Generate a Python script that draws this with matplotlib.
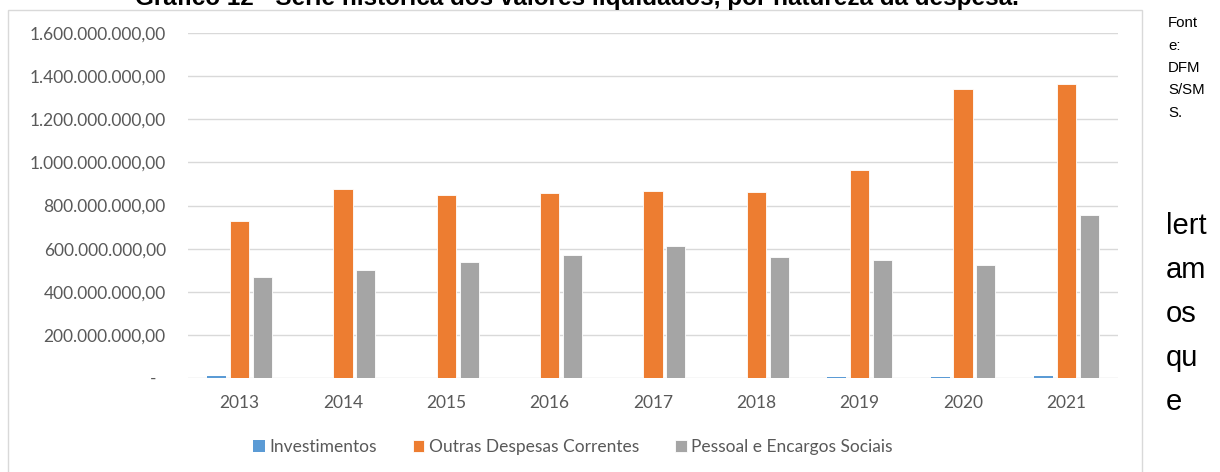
import matplotlib
matplotlib.use("Agg")
import matplotlib.pyplot as plt
from matplotlib.patches import Rectangle
import numpy as np

years = ["2013", "2014", "2015", "2016", "2017", "2018", "2019", "2020", "2021"]
investimentos = [8e6, 0.5e6, 0.5e6, 0.5e6, 0.5e6, 0.5e6, 5e6, 6e6, 11e6]
outras_despesas = [729e6, 878e6, 850e6, 856e6, 869e6, 862e6, 966e6, 1338e6, 1362e6]
pessoal = [469e6, 502e6, 536e6, 570e6, 613e6, 561e6, 545e6, 526e6, 754e6]
series_names = ["Investimentos", "Outras Despesas Correntes", "Pessoal e Encargos Sociais"]
colors = ["#5B9BD5", "#ED7D31", "#A5A5A5"]
yticks = [0, 200e6, 400e6, 600e6, 800e6, 1000e6, 1200e6, 1400e6, 1600e6]

title = "Gráfico 12 - Série histórica dos valores liquidados, por natureza da despesa."
side_small = ["Font", "e:", "DFM", "S/SM", "S."]
side_big = ["lert", "am", "os", "qu", "e"]

W, H = 1220, 472
DPI = 100
fig = plt.figure(figsize=(W / DPI, H / DPI), dpi=DPI)

def fx(px):
    return px / W

def fy(py):
    return 1 - py / H

# chart area border
fig.patches.append(Rectangle((fx(8), fy(480)), fx(1142) - fx(8), fy(10) - fy(480),
                             transform=fig.transFigure, fill=False,
                             edgecolor="#D9D9D9", linewidth=1.0, clip_on=False))

ax = fig.add_axes([fx(188), fy(378), fx(1118) - fx(188), fy(33) - fy(378)])

x = np.arange(len(years))
bw = 0.184
step = 0.222
edge_w = [0.0, 0.6, 0.6]
for i, (vals, name, c) in enumerate(zip([investimentos, outras_despesas, pessoal], series_names, colors)):
    ax.bar(x + (i - 1) * step, vals, width=bw, color=c, label=name,
           edgecolor="white", linewidth=edge_w[i], zorder=3)

ax.set_xlim(-0.5, len(years) - 0.5)
ax.set_ylim(0, 1.6e9)
ax.set_yticks(yticks)

def fmt(v):
    if v == 0:
        return "-  "
    s = f"{int(v):,}".replace(",", ".")
    return s + ",00"

ax.set_yticklabels([fmt(v) for v in yticks])
ax.set_xticks(x)
ax.set_xticklabels(years)

for s in ax.spines.values():
    s.set_visible(False)
ax.grid(axis="y", color="#D9D9D9", linewidth=1.0, zorder=0)
ax.set_axisbelow(True)
ax.tick_params(axis="both", length=0, colors="#595959")
ax.tick_params(axis="y", pad=16, labelsize=12.5)
ax.tick_params(axis="x", pad=12, labelsize=12.5)
for lab in ax.get_xticklabels() + ax.get_yticklabels():
    lab.set_fontfamily("Lato")

leg = fig.legend(loc="center", bbox_to_anchor=(fx(573), fy(447)), ncol=3, frameon=False,
                 prop={"family": "Lato", "size": 12.5}, handlelength=0.65, handleheight=0.65,
                 handletextpad=0.25, columnspacing=2.1, labelcolor="#595959")

# title (cut off at the top)
t = fig.text(fx(577), fy(5), title, ha="center", va="baseline",
             fontfamily="Liberation Sans", fontweight="bold", fontsize=14, color="black")
fig.canvas.draw()
bb = t.get_window_extent()
t.set_fontsize(14 * 885 / bb.width)

for k, s in enumerate(side_small):
    fig.text(fx(1168), fy(27 + 22.5 * k), s, ha="left", va="baseline",
             fontfamily="Liberation Sans", fontsize=10.8, color="black")
for k, s in enumerate(side_big):
    fig.text(fx(1166), fy(234 + 44 * k), s, ha="left", va="baseline",
             fontfamily="Liberation Sans", fontsize=21, color="black")

fig.savefig("out.png", dpi=DPI)
